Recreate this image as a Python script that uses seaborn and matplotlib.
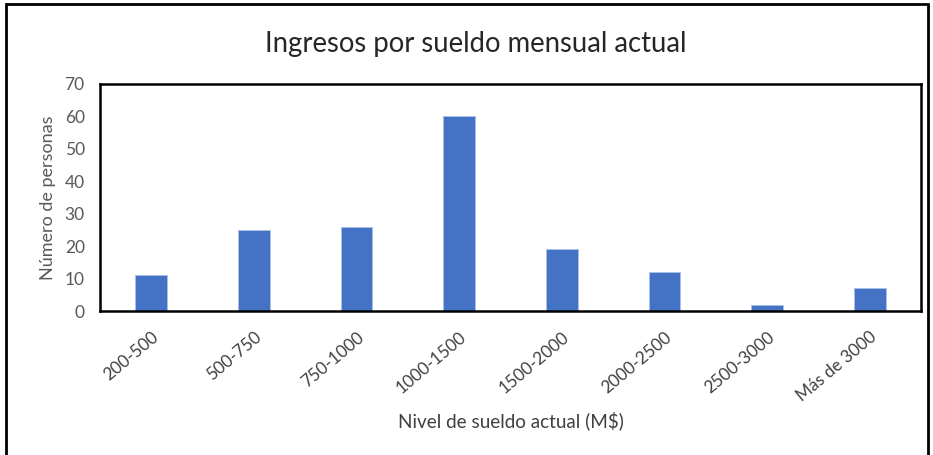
import matplotlib
matplotlib.use("Agg")
import matplotlib.pyplot as plt
import seaborn as sns
import pandas as pd
from matplotlib.patches import Rectangle

categories = ["200-500", "500-750", "750-1000", "1000-1500", "1500-2000",
              "2000-2500", "2500-3000", "Más de 3000"]
values = [11, 25, 26, 60, 19, 12, 2, 7]
yticks = [0, 10, 20, 30, 40, 50, 60, 70]

sns.set_style("white")
plt.rcParams['font.family'] = ['Lato', 'DejaVu Sans']

df = pd.DataFrame({"cat": categories, "val": values})

fig = plt.figure(figsize=(9.33, 4.55), dpi=100)
ax = fig.add_axes([100/933, 1-311/455, 821/933, 227/455])

sns.barplot(data=df, x="cat", y="val", color="#4472C4", width=0.31,
            saturation=1, ax=ax, edgecolor="#A9C0E8", linewidth=0.6)

ax.set_ylim(0, 70)
ax.set_yticks(yticks)
ax.set_xlim(-0.5, len(categories) - 0.5)
ax.tick_params(axis='y', colors="#595959", labelsize=12.5, length=0, pad=11)
ax.tick_params(axis='x', colors="#404040", labelsize=12.3, length=0, pad=13)
for lab in ax.get_yticklabels():
    lab.set_color("#595959")
for lab in ax.get_xticklabels():
    lab.set_rotation(40)
    lab.set_ha("right")
    lab.set_rotation_mode("anchor")
    lab.set_color("#404040")

for s in ax.spines.values():
    s.set_visible(True)
    s.set_color("black")
    s.set_linewidth(1.8)

ax.set_xlabel("Nivel de sueldo actual (M$)", fontsize=13.6, color="#404040", labelpad=5)
ax.set_ylabel("Número de personas", fontsize=13, color="#595959", labelpad=6)

fig.text(476/933, 1-44/455, "Ingresos por sueldo mensual actual", fontsize=19.8,
         color="#262626", ha="center", va="center")

fig.patches.append(Rectangle((6/933, -0.05), 922/933, 1.05 - 4/455,
                             transform=fig.transFigure, fill=False,
                             edgecolor="black", linewidth=2, zorder=10))

fig.savefig("out.png", dpi=100, facecolor="white")
